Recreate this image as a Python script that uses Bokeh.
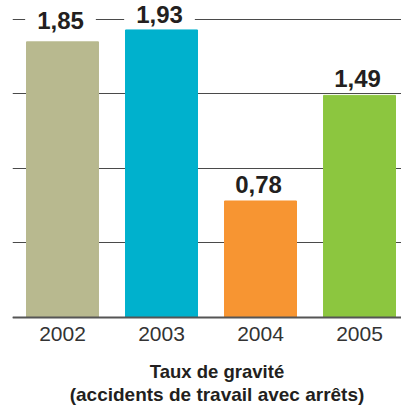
from bokeh.plotting import figure
from bokeh.models import ColumnDataSource, Label, Range1d, FixedTicker
from bokeh.embed import file_html
from bokeh.resources import INLINE

# ---- data ----
years = ["2002", "2003", "2004", "2005"]
values = [1.85, 1.93, 0.78, 1.49]
colors = ["#b8b98f", "#00b1cd", "#f79532", "#8cc63f"]
grid_ticks = [0, 0.5, 1.0, 1.5, 2.0]
title_line1 = "Taux de gravité"
title_line2 = "(accidents de travail avec arrêts)"

# ---- style ----
label_offsets = [12, 6, 7, 7]

idx = list(range(len(years)))
src = ColumnDataSource(dict(x=idx, top=values, color=colors))

p = figure(width=401, height=405, output_backend="svg", toolbar_location=None,
           x_range=Range1d(-0.505, 3.424), y_range=Range1d(-0.595, 2.128),
           min_border_left=12, min_border_right=0, min_border_top=0, min_border_bottom=0)
p.outline_line_color = None
p.background_fill_color = "white"
p.border_fill_color = "white"

p.vbar(x="x", top="top", bottom=0, width=0.727, color="color", source=src)

p.yaxis.visible = False
p.xgrid.visible = False
p.ygrid.ticker = FixedTicker(ticks=grid_ticks)
p.ygrid.grid_line_color = "#4a4a4a"
p.ygrid.grid_line_width = 1.2

p.xaxis.fixed_location = 0
p.xaxis.ticker = FixedTicker(ticks=idx)
p.xaxis.major_label_overrides = {i: y for i, y in zip(idx, years)}
p.xaxis.axis_line_color = "#555555"
p.xaxis.axis_line_width = 2
p.xaxis.major_tick_line_color = None
p.xaxis.minor_tick_line_color = None
p.xaxis.major_label_standoff = 4
p.xaxis.major_label_text_font = "Liberation Sans"
p.xaxis.major_label_text_font_size = "21px"
p.xaxis.major_label_text_color = "#333333"

for xi, v, off in zip(idx, values, label_offsets):
    p.add_layout(Label(x=xi, y=v, y_offset=off, x_offset=-2,
                       text=f"{v:.2f}".replace(".", ","),
                       text_align="center", text_baseline="bottom",
                       text_font="Liberation Sans", text_font_style="bold",
                       text_font_size="24px", text_color="#231f20",
                       background_fill_color="white",
                       padding=dict(left=12, right=12, top=1, bottom=1)))

for txt, off, fs in [(title_line1, -54, "18.5px"), (title_line2, -77, "19px")]:
    p.add_layout(Label(x=1.5, y=0, x_offset=6, y_offset=off, text=txt,
                       text_align="center", text_baseline="alphabetic",
                       text_font="Liberation Sans", text_font_style="bold",
                       text_font_size=fs, text_color="#231f20"))

open("out.html", "w").write(file_html(p, INLINE))
